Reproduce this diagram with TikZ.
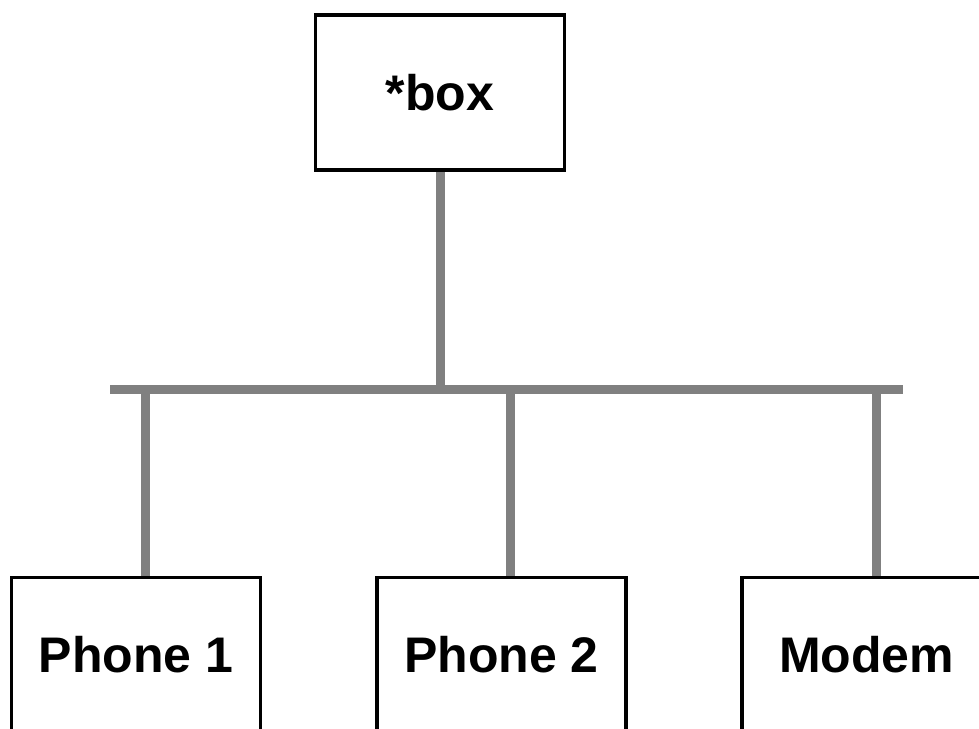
\documentclass[tikz,border=0pt]{standalone}
\usepackage{fontspec}
\setmainfont{Liberation Sans}
\usetikzlibrary{backgrounds}
\begin{document}
\begin{tikzpicture}[x=1pt,y=-1pt,
  box/.style={draw=black, line width=3.5pt, minimum width=249pt, minimum height=155pt,
    inner sep=0pt, font=\fontsize{50}{60}\selectfont\bfseries},
  link/.style={draw=gray, line width=9pt}]
\clip (0,0) rectangle (979,728);
\useasboundingbox (0,0) rectangle (979,728);
\node[box] (top) at (440,92.5) {*box};
\node[box] (p1) at (136,655) {Phone 1};
\node[box] (p2) at (501.5,655) {Phone 2};
\node[box] (modem) at (866.5,655) {Modem};
\coordinate (bl) at (110,389);
\coordinate (br) at (903,389);
\begin{scope}[on background layer]
\fill[white] (0,0) rectangle (979,728);
\draw[link] (bl) -- (br);
\draw[link] (top.south) -- (top.south |- bl);
\draw[link] ([xshift=9pt]p1.north) -- ++(0,-189);
\draw[link] ([xshift=9pt]p2.north) -- ++(0,-189);
\draw[link] ([xshift=10pt]modem.north) -- ++(0,-189);
\end{scope}
\end{tikzpicture}
\end{document}
